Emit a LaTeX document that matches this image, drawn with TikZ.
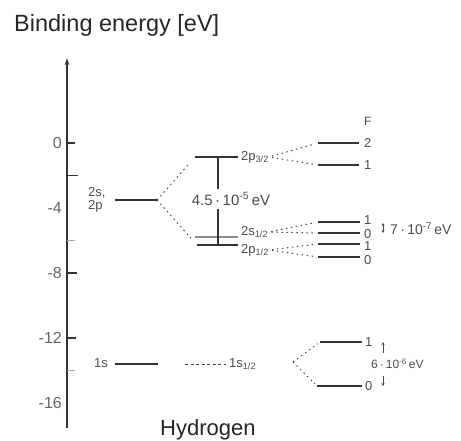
\documentclass[tikz,border=0pt]{standalone}
\usepackage{fontspec}
\setmainfont{Liberation Sans}
\usetikzlibrary{arrows.meta}
\begin{document}
\begin{tikzpicture}[x=1pt,y=-1pt,
  lvl/.style={draw=black!80, line width=1.3pt},
  lvllight/.style={draw=black!45, line width=1.2pt},
  dotc/.style={draw=black!70, line width=1pt, dash pattern=on 1.5pt off 3.5pt},
  dashc/.style={draw=black!75, line width=0.9pt, dash pattern=on 3pt off 2.5pt},
  axisline/.style={draw=black!80, line width=1.2pt},
  tick/.style={draw=black!80, line width=1.1pt},
  minortick/.style={draw=black!35, line width=1pt},
  big/.style={text=black!85, font=\fontsize{23.5}{23.5}\selectfont, inner sep=0pt},
  axlab/.style={text=black!60, font=\fontsize{16}{16}\selectfont, inner sep=0pt, anchor=east},
  lab/.style={text=black!70, font=\fontsize{13}{13}\selectfont, inner sep=0pt},
  slab/.style={text=black!70, font=\fontsize{12}{12}\selectfont, inner sep=0pt},
  vbar/.style={draw=black!80, line width=1.1pt},
  darr/.style={draw=black!70, line width=0.8pt, -{Stealth[length=3pt,width=3pt]}}
]
\fill[white] (0,0) rectangle (461,441);
\useasboundingbox (0,0) rectangle (461,441);

% title and bottom label
\node[big, anchor=base west] (title) at (14,32) {Binding energy [eV]};
\node[big, font=\fontsize{22}{22}\selectfont, anchor=base west] (hyd) at (160,435) {Hydrogen};

% axis
\coordinate (axB) at (67,428);
\coordinate (axT) at (67,58);
\draw[axisline, -{Stealth[length=7pt,width=4.5pt]}] (axB) -- (axT);
% ticks
\foreach \e/\len in {0/8,-2/11,-8/10,-12/9} {
  \draw[tick] (67,{143-16.25*\e}) -- ++(\len,0);
}
\foreach \e in {-6,-14} {
  \draw[minortick] (67,{143-16.25*\e}) -- ++(8,0);
}
\node[axlab] (l0) at (62,143) {0};
\node[axlab] (l4) at (62,208) {-4};
\node[axlab] (l8) at (62,273) {-8};
\node[axlab] (l12) at (62,338) {-12};
\node[axlab] (l16) at (62,403) {-16};

% n = 2 level
\coordinate (n2L) at (115,200);
\coordinate (n2R) at (157,200);
\draw[lvl] (n2L) -- (n2R);
\node[lab, anchor=west] (n2s) at (88,193) {2s,};
\node[lab, anchor=west] (n2p) at (88,206) {2p};

% fine structure
\coordinate (p32L) at (195,157);
\coordinate (p32R) at (238,157);
\coordinate (s12L) at (195,237);
\coordinate (s12R) at (238,237);
\coordinate (p12L) at (197,245);
\coordinate (p12R) at (238,245);
\draw[lvl] (p32L) -- (p32R);
\draw[lvllight] (s12L) -- (s12R);
\draw[lvl] (p12L) -- (p12R);
\draw[dotc, shorten >=10pt] (n2R) -- (p32L);
\draw[dotc, shorten >=9pt] (n2R) -- (p12L);

\node[lab, anchor=west] (p32lab) at (241,157) {2p\textsubscript{3/2}};
\node[lab, anchor=west] (s12lab) at (241,232) {2s\textsubscript{1/2}};
\node[lab, anchor=west] (p12lab) at (241,250) {2p\textsubscript{1/2}};

% fine-structure splitting bar
\node[lab, font=\fontsize{15}{15}\selectfont, inner sep=4pt] (fstext) at (231,199) {4.5\,·\,10\textsuperscript{-5}\,eV};
\coordinate (barT) at (218,157);
\coordinate (barB) at (218,245);
\draw[vbar] (barT) -- (barT |- fstext.north);
\draw[vbar] (barB |- fstext.south) -- (barB);

% hyperfine of 2p3/2
\coordinate (a2L) at (318,143);
\coordinate (a2R) at (359,143);
\coordinate (a1L) at (318,165);
\coordinate (a1R) at (359,165);
\draw[lvl] (a2L) -- (a2R);
\draw[lvl] (a1L) -- (a1R);
\draw[dotc, shorten <=3pt, shorten >=3pt] (p32lab.east) -- (a2L);
\draw[dotc, shorten <=3pt, shorten >=3pt] (p32lab.east) -- (a1L);
\node[lab, anchor=west] (fa2) at (364,143) {2};
\node[lab, anchor=west] (fa1) at (364,165) {1};
\node[slab, anchor=west] (Fhead) at (364,121) {F};

% hyperfine of 2s1/2 and 2p1/2
\coordinate (b1L) at (318,222);
\coordinate (b1R) at (360,222);
\coordinate (b0L) at (318,233);
\coordinate (b0R) at (360,233);
\coordinate (c1L) at (318,244);
\coordinate (c1R) at (360,244);
\coordinate (c0L) at (318,257);
\coordinate (c0R) at (360,257);
\draw[lvl] (b1L) -- (b1R);
\draw[lvl] (b0L) -- (b0R);
\draw[lvl] (c1L) -- (c1R);
\draw[lvl] (c0L) -- (c0R);
\draw[dotc, shorten <=3pt, shorten >=3pt] (s12lab.east) -- (b1L);
\draw[dotc, shorten <=3pt, shorten >=3pt] (s12lab.east) -- (b0L);
\draw[dotc, shorten <=3pt, shorten >=3pt] (p12lab.east) -- (c1L);
\draw[dotc, shorten <=3pt, shorten >=3pt] (p12lab.east) -- (c0L);
\node[lab, anchor=west] (fb1) at (364,220) {1};
\node[lab, anchor=west] (fb0) at (364,234) {0};
\node[lab, anchor=west] (fc1) at (364,246) {1};
\node[lab, anchor=west] (fc0) at (364,260) {0};
\coordinate (bArT) at (383,223);
\coordinate (bArB) at (383,233);
\draw[draw=black!70, line width=0.8pt, {Stealth[length=3pt,width=3pt]}-{Stealth[length=3pt,width=3pt]}] (bArT) -- (bArB);
\node[lab, font=\fontsize{14}{14}\selectfont, anchor=west] (bhfs) at (390,229) {7\,·\,10\textsuperscript{-7}\,eV};

% n = 1 level
\coordinate (s1L) at (115,364);
\coordinate (s1R) at (158,364);
\draw[lvl] (s1L) -- (s1R);
\node[lab, anchor=east] (s1lab) at (108,363) {1s};
\coordinate (d1a) at (185,364);
\coordinate (d1b) at (226,364);
\draw[dashc] (d1a) -- (d1b);
\node[lab, anchor=west] (s112lab) at (229,364) {1s\textsubscript{1/2}};

\coordinate (h1L) at (320,342);
\coordinate (h1R) at (362,342);
\coordinate (h0L) at (317,386);
\coordinate (h0R) at (362,386);
\draw[lvl] (h1L) -- (h1R);
\draw[lvl] (h0L) -- (h0R);
\coordinate (fanO) at (293,362);
\draw[dotc, shorten >=3pt] (fanO) -- (h1L);
\draw[dotc, shorten >=3pt] (fanO) -- (h0L);
\node[lab, anchor=west] (fh1) at (365,342) {1};
\node[lab, anchor=west] (fh0) at (365,386) {0};
\coordinate (hArT) at (383,342);
\coordinate (hArTs) at (383,353);
\coordinate (hArB) at (383,386);
\coordinate (hArBs) at (383,376);
\draw[darr] (hArTs) -- (hArT);
\draw[darr] (hArBs) -- (hArB);
\node[slab, anchor=west] (hhfs) at (371,364) {6\,·\,10\textsuperscript{-6}\,eV};
\end{tikzpicture}
\end{document}
